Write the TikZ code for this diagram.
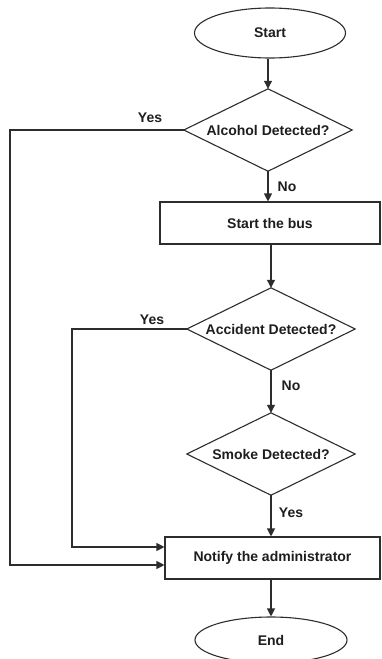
\documentclass[tikz,border=0pt]{standalone}
\usepackage{fontspec}
\setmainfont{Liberation Sans}
\usetikzlibrary{shapes.geometric,arrows.meta}
\definecolor{ink}{RGB}{45,45,45}
\definecolor{txt}{RGB}{30,30,30}
\tikzset{
  every node/.style={font=\fontsize{14}{16}\selectfont\bfseries, text=txt},
  term/.style={ellipse, draw=ink, line width=1.1pt, inner sep=0pt, minimum width=151, minimum height=50},
  procbox/.style={rectangle, draw=ink, line width=1.1pt, inner sep=0pt},
  decbox/.style={rectangle, inner sep=0pt, minimum width=168, minimum height=82},
  conn/.style={draw=ink, line width=1.1pt, -{Triangle[length=8pt,width=8pt]}},
  lbl/.style={inner sep=0pt},
}
\begin{document}
\begin{tikzpicture}[x=1pt,y=-1pt]
\useasboundingbox (0,0) rectangle (381,659);
\clip (0,0) rectangle (381,659);
\fill[white] (0,0) rectangle (381,659);

\node[term] (start) at (270,33) {Start};
\node[decbox] (d1) at (268,130) {Alcohol Detected?};
\draw[ink, line width=1.1pt] (d1.north) -- (d1.east) -- (d1.south) -- (d1.west) -- cycle;
\node[procbox, minimum width=220, minimum height=42] (bus) at (270,223) {Start the bus};
\node[decbox] (d2) at (271,329) {Accident Detected?};
\draw[ink, line width=1.1pt] (d2.north) -- (d2.east) -- (d2.south) -- (d2.west) -- cycle;
\node[decbox] (d3) at (271,454) {Smoke Detected?};
\draw[ink, line width=1.1pt] (d3.north) -- (d3.east) -- (d3.south) -- (d3.west) -- cycle;
\node[procbox, minimum width=215, minimum height=42] (notify) at (272.5,558) {Notify the administrator};
\node[term, minimum width=152, minimum height=46] (end) at (271,640) {End};

\coordinate (a1) at (10,130);
\coordinate (a2) at (10,565);
\coordinate (b1) at (72,329);
\coordinate (b2) at (72,547);

\draw[conn] (start.south -| d1.north) -- (d1.north);
\draw[conn] (d1.south) -- (d1.south |- bus.north);
\draw[conn] (d1.west) -- (a1) -- (a2) -- (a2 -| notify.west);
\draw[conn] (bus.south -| d2.north) -- (d2.north);
\draw[conn] (d2.west) -- (b1) -- (b2) -- (b2 -| notify.west);
\draw[conn] (d2.south) -- (d3.north);
\draw[conn] (d3.south) -- (d3.south |- notify.north);
\draw[conn] (notify.south -| end.north) -- (end.north);

\node[lbl] (y1) at (150,118) {Yes};
\node[lbl] (n1) at (287,187) {No};
\node[lbl] (y2) at (152,320) {Yes};
\node[lbl] (n2) at (291,386) {No};
\node[lbl] (y3) at (291,513) {Yes};
\end{tikzpicture}
\end{document}
